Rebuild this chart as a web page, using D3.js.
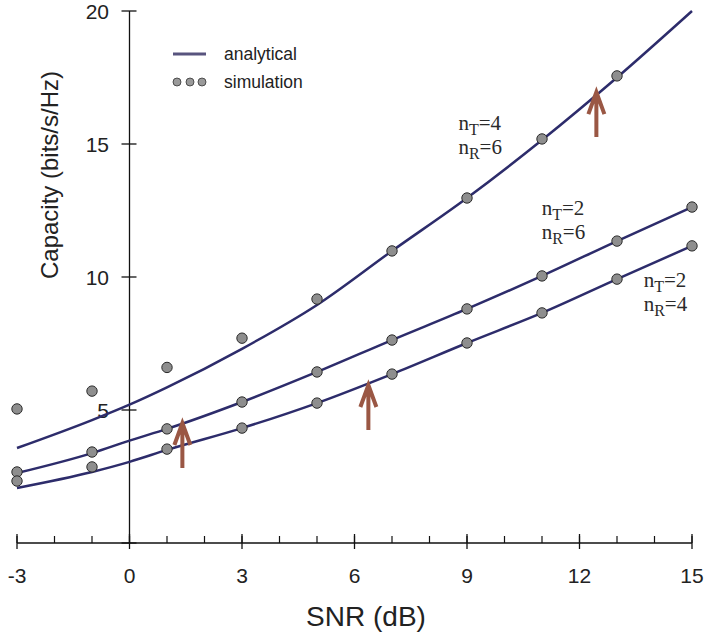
<!DOCTYPE html>
<html>
<head>
<meta charset="utf-8">
<script src="https://cdn.jsdelivr.net/npm/d3@7"></script>
<style>
  body { margin: 0; background: #fff; }
  svg text { font-family: "Liberation Sans", Arial, sans-serif; fill: #222; }
  svg text.lbl { font-family: "Liberation Serif", "Times New Roman", serif; }
</style>
</head>
<body>
<svg id="chart" width="706" height="636"></svg>
<script>
// SNR values (dB)
var snrLine = [-3, -1, 0, 1, 3, 5, 7, 9, 11, 13, 15];
var snrSim = [-3, -1, 1, 3, 5, 7, 9, 11, 13, 15];

// analytical capacity curves
var lineT4R6 = [3.57, 4.62, 5.2, 5.85, 7.3, 8.95, 10.98, 12.97, 15.15, 17.5, 20.0];
var lineT2R6 = [2.63, 3.38, 3.85, 4.29, 5.3, 6.43, 7.63, 8.8, 10.04, 11.35, 12.63];
var lineT2R4 = [2.07, 2.67, 3.05, 3.5, 4.32, 5.26, 6.35, 7.52, 8.65, 9.92, 11.17];

// simulation points (top curve has no point at 15 dB)
var simT4R6 = [5.04, 5.71, 6.6, 7.7, 9.17, 10.98, 12.97, 15.19, 17.56, null];
var simT2R6 = [2.67, 3.42, 4.29, 5.3, 6.43, 7.63, 8.8, 10.04, 11.35, 12.63];
var simT2R4 = [2.33, 2.86, 3.53, 4.32, 5.26, 6.35, 7.52, 8.65, 9.92, 11.17];

var xTicks = [-3, 0, 3, 6, 9, 12, 15];
var xMinor = d3.range(-3, 16, 1);
var yTicks = [0, 5, 10, 15, 20];

// curve labels: position of the first row (snr, capacity), subscript and value per row
var labels = [
    {x: 8.77, y: 15.53, rows: [["T", "4"], ["R", "6"]]},
    {x: 10.99, y: 12.33, rows: [["T", "2"], ["R", "6"]]},
    {x: 13.71, y: 9.62, rows: [["T", "2"], ["R", "4"]]}
];

// arrows: snr, from capacity, to capacity
var arrows = [
    {x: 1.41, y0: 2.82, y1: 4.51},
    {x: 6.37, y0: 4.25, y1: 5.94},
    {x: 12.45, y0: 15.26, y1: 16.95}
];

var lineColor = '#2d2c6b';
var arrowColor = '#9a5744';

var svg = d3.select('#chart');
var x = d3.scaleLinear().domain([-3, 15]).range([17, 692]);
var y = d3.scaleLinear().domain([0, 20]).range([543, 11]);

// y axis (crossing ticks)
svg.append('line')
    .attr('x1', x(0)).attr('x2', x(0))
    .attr('y1', y(0)).attr('y2', y(20))
    .attr('stroke', '#111').attr('stroke-width', 1.3);
svg.selectAll('.ytick').data(yTicks).enter().append('line')
    .attr('class', 'ytick')
    .attr('x1', x(0) - 8).attr('x2', x(0) + 7)
    .attr('y1', function(d) { return y(d); })
    .attr('y2', function(d) { return y(d); })
    .attr('stroke', '#111').attr('stroke-width', 1.3);
svg.selectAll('.ylab').data(yTicks.filter(function(d) { return d > 0; })).enter().append('text')
    .attr('class', 'ylab')
    .attr('x', 109)
    .attr('y', function(d) { return y(d) + 7.5; })
    .attr('text-anchor', 'end')
    .style('font-size', '21px')
    .text(function(d) { return d; });

// x axis
svg.append('line')
    .attr('x1', x(-3)).attr('x2', x(15))
    .attr('y1', y(0)).attr('y2', y(0))
    .attr('stroke', '#111').attr('stroke-width', 1.3);
svg.selectAll('.xminor').data(xMinor).enter().append('line')
    .attr('x1', function(d) { return x(d); })
    .attr('x2', function(d) { return x(d); })
    .attr('y1', y(0) - 7).attr('y2', y(0))
    .attr('stroke', '#111').attr('stroke-width', 1.2);
svg.selectAll('.xtick').data(xTicks).enter().append('line')
    .attr('x1', function(d) { return x(d); })
    .attr('x2', function(d) { return x(d); })
    .attr('y1', y(0) - 9).attr('y2', y(0) + 6)
    .attr('stroke', '#111').attr('stroke-width', 1.3);
svg.selectAll('.xlab').data(xTicks).enter().append('text')
    .attr('x', function(d) { return x(d); })
    .attr('y', 583)
    .attr('text-anchor', 'middle')
    .style('font-size', '21px')
    .text(function(d) { return d; });

// axis titles
svg.append('text')
    .attr('x', 366).attr('y', 626)
    .attr('text-anchor', 'middle')
    .style('font-size', '28px')
    .text('SNR (dB)');
svg.append('text')
    .attr('transform', 'translate(58,175) rotate(-90)')
    .attr('text-anchor', 'middle')
    .style('font-size', '24px')
    .text('Capacity (bits/s/Hz)');

// analytical curves
var line = d3.line()
    .x(function(d) { return x(d[0]); })
    .y(function(d) { return y(d[1]); })
    .curve(d3.curveMonotoneX);
[lineT4R6, lineT2R6, lineT2R4].forEach(function(vals) {
    svg.append('path')
        .datum(snrLine.map(function(s, i) { return [s, vals[i]]; }))
        .attr('d', line)
        .attr('fill', 'none')
        .attr('stroke', lineColor)
        .attr('stroke-width', 2.5);
});

// simulation points
[simT4R6, simT2R6, simT2R4].forEach(function(vals) {
    var pts = snrSim.map(function(s, i) { return [s, vals[i]]; })
        .filter(function(d) { return d[1] != null; });
    svg.selectAll(null).data(pts).enter().append('circle')
        .attr('cx', function(d) { return x(d[0]); })
        .attr('cy', function(d) { return y(d[1]); })
        .attr('r', 5.2)
        .attr('fill', '#8e8e8e')
        .attr('stroke', '#2a2a2a')
        .attr('stroke-width', 1);
});

// arrows
arrows.forEach(function(a) {
    var ax = x(a.x), tip = y(a.y1);
    svg.append('path')
        .attr('d', 'M' + ax + ',' + y(a.y0) + 'V' + tip +
            'M' + (ax - 8) + ',' + (tip + 22) + 'L' + ax + ',' + tip + 'L' + (ax + 8) + ',' + (tip + 22))
        .attr('fill', 'none')
        .attr('stroke', arrowColor)
        .attr('stroke-width', 4)
        .attr('stroke-linejoin', 'miter');
});

// curve labels
labels.forEach(function(l) {
    l.rows.forEach(function(r, i) {
        var t = svg.append('text')
            .attr('class', 'lbl')
            .attr('x', x(l.x))
            .attr('y', y(l.y) + i * 24)
            .style('font-size', '21px')
            .style('fill', '#2a2a2a');
        t.append('tspan').text('n');
        t.append('tspan').attr('dy', 5).style('font-size', '16px').text(r[0]);
        t.append('tspan').attr('dy', -5).text('=' + r[1]);
    });
});

// legend
svg.append('line')
    .attr('x1', 173).attr('x2', 206)
    .attr('y1', 54).attr('y2', 54)
    .attr('stroke', '#58547e').attr('stroke-width', 3);
svg.append('text').attr('x', 224).attr('y', 60)
    .style('font-size', '17.5px').text('analytical');
svg.selectAll('.legdot').data([177, 190, 202]).enter().append('circle')
    .attr('cx', function(d) { return d; })
    .attr('cy', 82)
    .attr('r', 4)
    .attr('fill', '#9a9a9a')
    .attr('stroke', '#333')
    .attr('stroke-width', 0.8);
svg.append('text').attr('x', 224).attr('y', 88)
    .style('font-size', '17.5px').text('simulation');
</script>
</body>
</html>
